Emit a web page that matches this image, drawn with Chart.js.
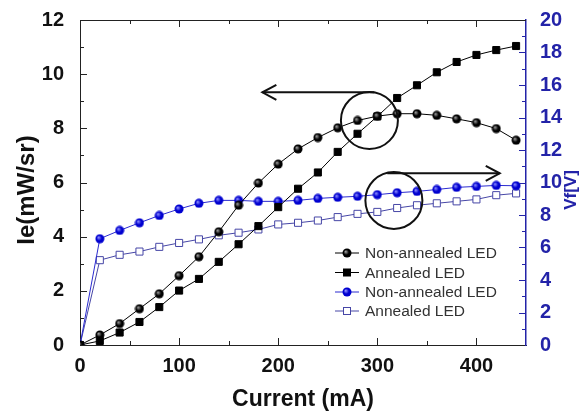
<!DOCTYPE html>
<html>
<head>
<meta charset="utf-8">
<script src="https://cdn.jsdelivr.net/npm/chart.js@4.4.1/dist/chart.umd.min.js"></script>
<style>
    html, body { margin: 0; padding: 0; background: #fff; }
    #wrap { width: 584px; height: 416px; }
</style>
</head>
<body>
<div id="wrap"><canvas id="chart" width="584" height="416"></canvas></div>
<script>
'use strict'

// data
const current = [0, 20, 40, 60, 80, 100, 120, 140, 160, 180, 200, 220, 240, 260, 280, 300, 320, 340, 360, 380, 400, 420, 440]
const ieNonAnnealed = [0, 0.37, 0.79, 1.34, 1.89, 2.56, 3.26, 4.18, 5.16, 5.98, 6.68, 7.24, 7.66, 8.02, 8.29, 8.45, 8.54, 8.54, 8.48, 8.35, 8.21, 7.99, 7.56]
const ieAnnealed = [0, 0.15, 0.46, 0.85, 1.40, 2.01, 2.44, 3.07, 3.72, 4.39, 5.09, 5.77, 6.37, 7.13, 7.80, 8.44, 9.12, 9.59, 10.07, 10.45, 10.71, 10.89, 11.04]
const vfNonAnnealed = [0, 6.54, 7.05, 7.52, 7.97, 8.37, 8.72, 8.90, 8.90, 8.84, 8.84, 8.90, 9.02, 9.09, 9.15, 9.25, 9.37, 9.45, 9.57, 9.70, 9.76, 9.82, 9.80]
const vfAnnealed = [0, 5.22, 5.55, 5.75, 6.04, 6.28, 6.50, 6.75, 6.91, 7.11, 7.42, 7.52, 7.66, 7.87, 8.07, 8.19, 8.43, 8.60, 8.72, 8.84, 8.96, 9.22, 9.33]
const currentTicks = [0, 100, 200, 300, 400]
const labels = ['Non-annealed LED', 'Annealed LED', 'Non-annealed LED', 'Annealed LED']

const BLUE = '#2323a8'
const FONT = 'Arial, "Liberation Sans", sans-serif'

// little shaded balls like the origin markers
const sphere = (light, dark) => {
    const c = document.createElement('canvas')
    c.width = 10
    c.height = 10
    const g = c.getContext('2d')
    const grad = g.createRadialGradient(3.6, 3.6, 0.3, 5, 5, 5)
    grad.addColorStop(0, light)
    grad.addColorStop(0.5, dark)
    grad.addColorStop(1, dark)
    g.fillStyle = grad
    g.beginPath()
    g.arc(5, 5, 4.5, 0, Math.PI * 2)
    g.fill()
    return c
}
const blackBall = sphere('#9a9a9a', '#000')
const blueBall = sphere('#8c8cff', '#0000d0')

const pts = arr => current.map((x, i) => ({ x: x, y: arr[i] }))

const datasets = [{
    label: labels[0],
    data: pts(ieNonAnnealed),
    yAxisID: 'y',
    borderColor: '#000',
    borderWidth: 1,
    pointStyle: blackBall,
    pointRadius: 4
}, {
    label: labels[1],
    data: pts(ieAnnealed),
    yAxisID: 'y',
    borderColor: '#000',
    backgroundColor: '#000',
    borderWidth: 1,
    pointStyle: 'rect',
    pointRadius: 5
}, {
    label: labels[2],
    data: pts(vfNonAnnealed),
    yAxisID: 'y2',
    borderColor: '#2a2ad0',
    borderWidth: 1,
    pointStyle: blueBall,
    pointRadius: 4
}, {
    label: labels[3],
    data: pts(vfAnnealed),
    yAxisID: 'y2',
    borderColor: '#4646a6',
    backgroundColor: '#fff',
    borderWidth: 1,
    pointStyle: 'rect',
    pointRadius: 5
}]

const line = (ctx, x1, y1, x2, y2) => {
    ctx.beginPath()
    ctx.moveTo(x1, y1)
    ctx.lineTo(x2, y2)
    ctx.stroke()
}

// inward ticks, top frame, annotations, legend, titles
const decor = {
    id: 'decor',
    afterDraw(chart) {
        const { ctx, chartArea: a, scales } = chart
        const { x, y, y2 } = scales
        ctx.save()

        ctx.strokeStyle = '#222'
        ctx.lineWidth = 1
        line(ctx, a.left, a.top + 0.5, a.right, a.top + 0.5)

        for (let v = 50; v < 450; v += 50) {
            const px = Math.round(x.getPixelForValue(v)) + 0.5
            const len = v % 100 === 0 ? 7 : 4
            line(ctx, px, a.bottom, px, a.bottom - len)
            line(ctx, px, a.top, px, a.top + len)
        }
        for (let v = 1; v < 12; v++) {
            const py = Math.round(y.getPixelForValue(v)) + 0.5
            line(ctx, a.left, py, a.left + (v % 2 ? 4 : 7), py)
        }
        ctx.strokeStyle = BLUE
        for (let v = 1; v < 20; v++) {
            const py = Math.round(y2.getPixelForValue(v)) + 0.5
            line(ctx, a.right, py, a.right - (v % 2 ? 4 : 7), py)
        }

        // circles + arrows
        ctx.strokeStyle = '#111'
        ctx.lineWidth = 2
        const circle = (cx, cy) => {
            ctx.beginPath()
            ctx.arc(x.getPixelForValue(cx), y.getPixelForValue(cy), 28.5, 0, Math.PI * 2)
            ctx.stroke()
        }
        const arrow = (x1, x2, yv) => {
            const p1 = x.getPixelForValue(x1)
            const p2 = x.getPixelForValue(x2)
            const py = y.getPixelForValue(yv)
            const dir = p2 > p1 ? 1 : -1
            line(ctx, p1, py, p2, py)
            ctx.beginPath()
            ctx.moveTo(p2 - dir * 14, py - 7.5)
            ctx.lineTo(p2, py)
            ctx.lineTo(p2 - dir * 14, py + 7.5)
            ctx.stroke()
        }
        circle(292, 8.29)
        arrow(297, 184, 9.33)
        circle(316.7, 5.34)
        arrow(310, 423.5, 6.34)

        // legend
        const rows = [253, 272.5, 292, 311]
        ctx.font = '15.5px ' + FONT
        ctx.textBaseline = 'middle'
        chart.data.datasets.forEach((ds, i) => {
            const ry = rows[i]
            ctx.strokeStyle = ds.borderColor
            ctx.lineWidth = 1
            line(ctx, 335, ry, 359, ry)
            if (ds.pointStyle === 'rect') {
                ctx.fillStyle = ds.backgroundColor
                ctx.fillRect(343.5, ry - 3.5, 7, 7)
                ctx.strokeRect(343.5, ry - 3.5, 7, 7)
            } else {
                ctx.drawImage(ds.pointStyle, 342, ry - 5)
            }
            ctx.fillStyle = '#333'
            ctx.textAlign = 'left'
            ctx.fillText(ds.label, 365, ry + 1)
        })

        // axis titles
        ctx.fillStyle = '#111'
        ctx.textAlign = 'center'
        ctx.font = 'bold 23px ' + FONT
        ctx.fillText('Current (mA)', (a.left + a.right) / 2, 400)

        ctx.save()
        ctx.translate(27, 190)
        ctx.rotate(-Math.PI / 2)
        ctx.font = 'bold 24px ' + FONT
        ctx.fillText('Ie(mW/sr)', 0, 0)
        ctx.restore()

        ctx.save()
        ctx.translate(571, 190)
        ctx.rotate(-Math.PI / 2)
        ctx.fillStyle = BLUE
        ctx.font = 'bold 17px ' + FONT
        ctx.fillText('Vf[V]', 0, 0)
        ctx.restore()

        ctx.restore()
    }
}

const tickFont = { family: FONT, size: 20, weight: 'bold' }

const config = {
    type: 'line',
    data: { datasets: datasets },
    options: {
        responsive: false,
        animation: false,
        layout: { padding: { top: 17, left: 0, right: 0, bottom: 0 } },
        plugins: {
            legend: { display: false },
            tooltip: { enabled: false }
        },
        scales: {
            x: {
                type: 'linear',
                position: 'bottom',
                min: 0,
                max: 450,
                grid: { display: false },
                border: { display: true, color: '#222', width: 1 },
                ticks: { font: tickFont, color: '#111', padding: 1, maxRotation: 0, autoSkip: false },
                afterBuildTicks: s => { s.ticks = currentTicks.map(v => ({ value: v })) },
                afterFit: s => { s.height = 71 }
            },
            y: {
                position: 'left',
                min: 0,
                max: 12,
                grid: { display: false },
                border: { display: true, color: '#222', width: 1 },
                ticks: { stepSize: 2, font: tickFont, color: '#111', padding: 8 },
                afterFit: s => { s.width = 80 }
            },
            y2: {
                position: 'right',
                min: 0,
                max: 20,
                grid: { display: false },
                border: { display: true, color: BLUE, width: 1.5 },
                ticks: { stepSize: 2, font: tickFont, color: BLUE, padding: 6 },
                afterFit: s => { s.width = 58 }
            }
        }
    },
    plugins: [decor]
}

const chart = new Chart(document.querySelector('#chart').getContext('2d'), config)
</script>
</body>
</html>
